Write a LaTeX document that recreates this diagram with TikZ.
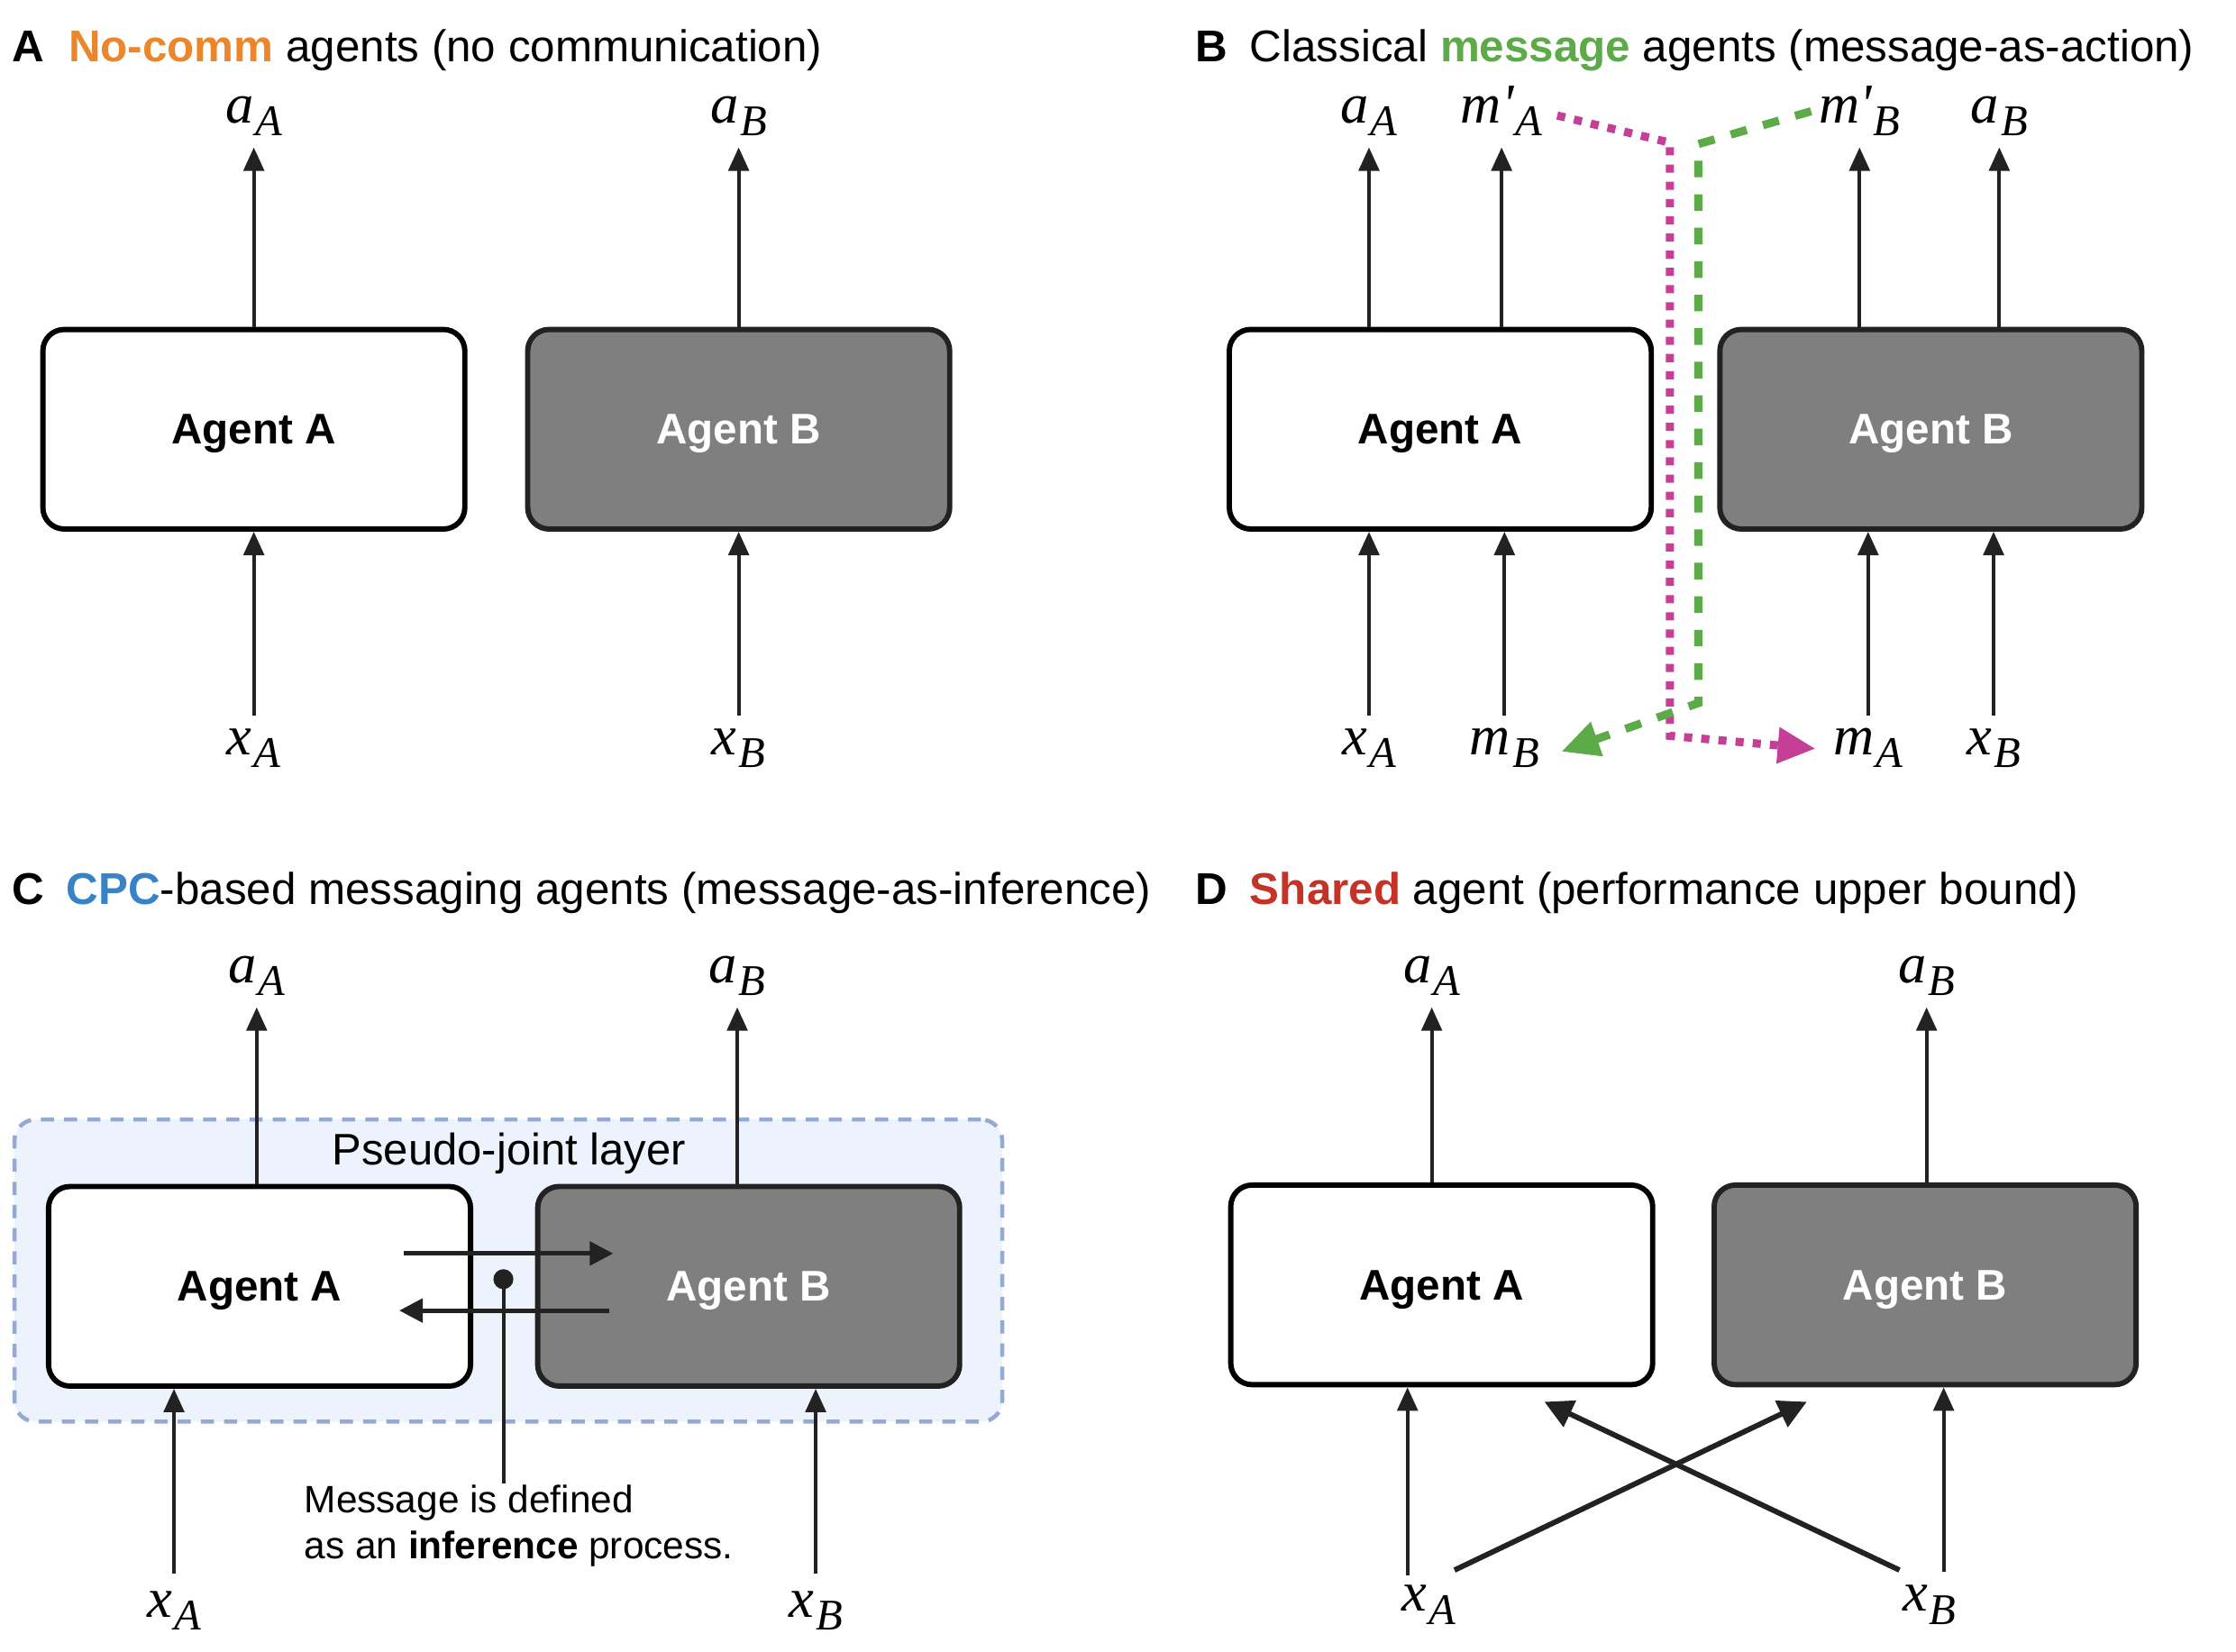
\documentclass[tikz,border=0pt]{standalone}
\usepackage{fontspec}
\setmainfont{Liberation Sans}
\newfontfamily\labfont{Liberation Serif}
\usetikzlibrary{arrows.meta,calc}
\definecolor{cOrange}{RGB}{234,135,45}
\definecolor{cGreen}{RGB}{92,170,72}
\definecolor{cBlue}{RGB}{56,130,198}
\definecolor{cRed}{RGB}{196,50,40}
\definecolor{cMag}{RGB}{197,63,151}
\definecolor{cDark}{RGB}{34,34,34}
\definecolor{cGray}{RGB}{127,127,127}
\definecolor{cLayerFill}{RGB}{236,243,252}
\definecolor{cLayerLine}{RGB}{148,169,212}
\newcommand\lbl[2]{{\labfont\fontsize{18}{20}\selectfont\itshape #1\kern0.6pt\raisebox{-4.2pt}{\fontsize{14}{15}\selectfont #2}}}
\begin{document}
\begin{tikzpicture}[x=0.016cm,y=-0.016cm,
  agentA/.style={draw=black, line width=1.7pt, rounded corners=0.24cm, fill=white,
    minimum width=4.736cm, minimum height=2.24cm, inner sep=0, text depth=0pt,
    font=\fontsize{13.7}{16}\selectfont\bfseries},
  agentB/.style={agentA, fill=cGray, draw=cDark, text=white},
  ttl/.style={anchor=base west, inner sep=0, font=\fontsize{14.2}{17}\selectfont},
  toplab/.style={anchor=base, inner sep=0, text depth=7.7pt},
  botlab/.style={anchor=base, inner sep=0, text height=12.2pt},
  arr/.style={draw=cDark, line width=1.15pt, -{Triangle[length=7.5pt,width=6.5pt]}},
  arrM/.style={draw=cDark, line width=1.4pt, -{Triangle[length=7.5pt,width=7.5pt]}},
  arrX/.style={draw=cDark, line width=1.7pt, -{Triangle[length=9pt,width=9pt]}},
  magpath/.style={draw=cMag, line width=2.6pt, dash pattern=on 2.6pt off 2.9pt,
    -{Triangle[length=12pt,width=11pt,fill=cMag]}},
  grnpath/.style={draw=cGreen, line width=2.6pt, dash pattern=on 5.3pt off 5.4pt,
    -{Triangle[length=12pt,width=11pt,fill=cGreen]}},
  layer/.style={draw=cLayerLine, fill=cLayerFill, line width=1.3pt, dash pattern=on 4.2pt off 3.2pt,
    rounded corners=0.24cm, minimum width=11.088cm, minimum height=3.392cm, inner sep=0}
]
\fill[white] (0,0) rectangle (1568,1158);
\useasboundingbox (0,0) rectangle (1568,1158);

% ---------------- Panel A ----------------
\node[ttl] (tA) at (8,43) {\textbf{A}\hspace{0.55em}\textbf{\color{cOrange}No-comm} agents (no communication)};
\node[agentA] (A1) at (178,301) {Agent A};
\node[agentB] (B1) at (518,301) {Agent B};
\node[toplab] (aA1) at (178,86) {\lbl{a}{A}};
\node[toplab] (aB1) at (518,86) {\lbl{a}{B}};
\node[botlab] (xA1) at (178,529) {\lbl{x}{A}};
\node[botlab] (xB1) at (518,529) {\lbl{x}{B}};
\draw[arr] (A1.north) -- (aA1.south);
\draw[arr] (B1.north) -- (aB1.south);
\draw[arr] (xA1.north) -- (A1.south);
\draw[arr] (xB1.north) -- (B1.south);

% ---------------- Panel B ----------------
\node[ttl] (tB) at (838,43) {\textbf{B}\hspace{0.5em}Classical \textbf{\color{cGreen}message} agents (message-as-action)};
\node[agentA] (A2) at (1010,301) {Agent A};
\node[agentB] (B2) at (1354,301) {Agent B};
\node[toplab] (aA2) at (960,86) {\lbl{a}{A}};
\node[toplab] (mpA) at (1053,86) {\lbl{m\textquotesingle}{A}};
\node[toplab] (mpB) at (1304,86) {\lbl{m\textquotesingle}{B}};
\node[toplab] (aB2) at (1402,86) {\lbl{a}{B}};
\node[botlab] (xA2) at (960,529) {\lbl{x}{A}};
\node[botlab] (mB) at (1055,529) {\lbl{m}{B}};
\node[botlab] (mA) at (1310,529) {\lbl{m}{A}};
\node[botlab] (xB2) at (1398,529) {\lbl{x}{B}};
\draw[arr] (A2.north -| aA2.south) -- (aA2.south);
\draw[arr] (A2.north -| mpA.south) -- (mpA.south);
\draw[arr] (B2.north -| mpB.south) -- (mpB.south);
\draw[arr] (B2.north -| aB2.south) -- (aB2.south);
\draw[arr] (xA2.north) -- (A2.south -| xA2.north);
\draw[arr] (mB.north) -- (A2.south -| mB.north);
\draw[arr] (mA.north) -- (B2.south -| mA.north);
\draw[arr] (xB2.north) -- (B2.south -| xB2.north);
\coordinate (mg0) at (1092,81);
\coordinate (mg1) at (1171,100);
\coordinate (mg2) at (1171,516);
\coordinate (mg3) at (1273,525);
\draw[magpath] (mg0) -- (mg1) -- (mg2) -- (mg3);
\coordinate (gr0) at (1270,78);
\coordinate (gr1) at (1191,101);
\coordinate (gr2) at (1191,493);
\coordinate (gr3) at (1095,527);
\draw[grnpath] (gr0) -- (gr1) -- (gr2) -- (gr3);

% ---------------- Panel C ----------------
\node[ttl] (tC) at (8,634) {\textbf{C}\hspace{0.5em}\textbf{\color{cBlue}CPC}-based messaging agents (message-as-inference)};
\node[layer] (L) at (356.5,891) {};
\node[inner sep=0, font=\fontsize{14.1}{17}\selectfont] (Ltxt) at (357,809) {Pseudo-joint layer};
\node[agentA] (A3) at (182,902) {Agent A};
\node[agentB] (B3) at (525,902) {Agent B};
\node[toplab] (aA3) at (180,689) {\lbl{a}{A}};
\node[toplab] (aB3) at (517,689) {\lbl{a}{B}};
\node[botlab, text height=13.6pt] (xA3) at (122,1134) {\lbl{x}{A}};
\node[botlab, text height=13.6pt] (xB3) at (572,1134) {\lbl{x}{B}};
\draw[arr] (A3.north -| aA3.south) -- (aA3.south);
\draw[arr] (B3.north -| aB3.south) -- (aB3.south);
\draw[arr] (xA3.north) -- (A3.south -| xA3.north);
\draw[arr] (xB3.north) -- (B3.south -| xB3.north);
\coordinate (r0) at (283,879);
\coordinate (r1) at (430,879);
\coordinate (l0) at (427,919);
\coordinate (l1) at (280,919);
\draw[arrM] (r0) -- (r1);
\draw[arrM] (l0) -- (l1);
\node[circle, fill=cDark, minimum size=0.224cm, inner sep=0] (dot) at (353,897) {};
\coordinate (msg) at (353,1040);
\draw[cDark, line width=1.15pt] (dot.center) -- (msg);
\node[anchor=north west, inner sep=0, align=left, font=\fontsize{12.2}{14.6}\selectfont] (msgtxt) at (213,1041)
  {Message is defined\\as an \textbf{inference} process.};

% ---------------- Panel D ----------------
\node[ttl] (tD) at (838,634) {\textbf{D}\hspace{0.5em}\textbf{\color{cRed}Shared} agent (performance upper bound)};
\node[agentA] (A4) at (1011,901) {Agent A};
\node[agentB] (B4) at (1350,901) {Agent B};
\node[toplab] (aA4) at (1004,689) {\lbl{a}{A}};
\node[toplab] (aB4) at (1351,689) {\lbl{a}{B}};
\node[botlab] (xA4) at (1002,1130) {\lbl{x}{A}};
\node[botlab] (xB4) at (1353,1130) {\lbl{x}{B}};
\draw[arr] (A4.north -| aA4.south) -- (aA4.south);
\draw[arr] (B4.north -| aB4.south) -- (aB4.south);
\coordinate (dA) at (987,1105);
\coordinate (dB) at (1363,1102);
\draw[arr] (dA) -- (A4.south -| dA);
\draw[arr] (dB) -- (B4.south -| dB);
\coordinate (cA0) at (1020,1101);
\coordinate (cA1) at (1267,983);
\coordinate (cB0) at (1332,1101);
\coordinate (cB1) at (1083,983);
\draw[arrX] (cA0) -- (cA1);
\draw[arrX] (cB0) -- (cB1);
\end{tikzpicture}
\end{document}
